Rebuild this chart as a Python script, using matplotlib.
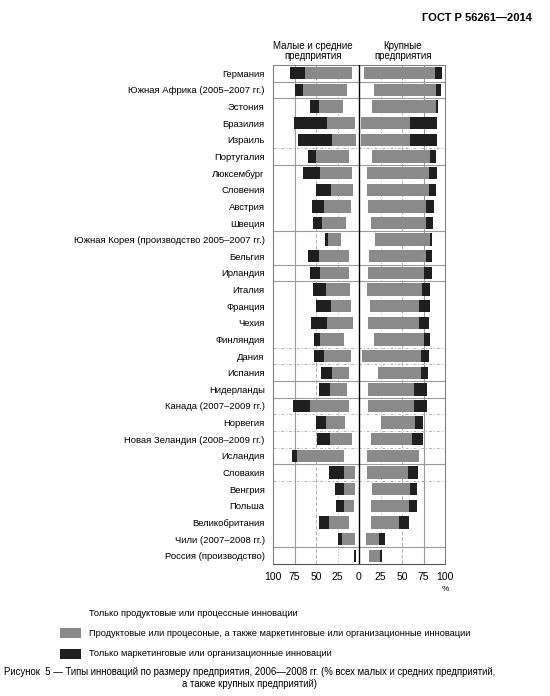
import matplotlib
matplotlib.use("Agg")
import matplotlib.pyplot as plt
from matplotlib.patches import Rectangle
import numpy as np

plt.rcParams['font.family'] = ['Liberation Sans', 'DejaVu Sans']

countries = ["Германия", "Южная Африка (2005–2007 гг.)", "Эстония", "Бразилия", "Израиль",
             "Португалия", "Люксембург", "Словения", "Австрия", "Швеция",
             "Южная Корея (производство 2005–2007 гг.)", "Бельгия", "Ирландия", "Италия",
             "Франция", "Чехия", "Финляндия", "Дания", "Испания", "Нидерланды",
             "Канада (2007–2009 гг.)", "Норвегия", "Новая Зеландия (2008–2009 гг.)",
             "Исландия", "Словакия", "Венгрия", "Польша", "Великобритания",
             "Чили (2007–2008 гг.)", "Россия (производство)"]

# Small and medium enterprises (%)
sme_only_prod = [8.5, 14, 19, 5, 3, 12, 8, 7, 9, 15, 21, 12, 12, 10, 9, 7, 18, 9, 12, 14,
                 12, 16, 8, 18, 5, 5, 6, 12, 5, 3]
sme_both = [54, 51, 27, 32, 28, 38, 37, 25, 32, 28, 15, 34, 33, 28, 24, 30, 27, 32, 19, 20,
            45, 22, 26, 54, 13, 13, 11, 23, 15, 1]
sme_mkt = [17.5, 10, 11, 39, 40, 9, 20, 18, 14, 11, 3, 13, 12, 15, 17, 19, 7, 11, 13, 12,
           20, 12, 15, 6, 17, 10, 10, 11, 5, 1.5]

# Large enterprises (%)
large_only_prod = [6, 18, 15, 2, 2, 15, 9, 9, 10, 14, 19, 12, 11, 9, 13, 10, 17, 4, 22, 11,
                   10, 26, 14, 9, 9, 15, 14, 14, 8, 12]
large_both = [82, 72, 75, 57, 57, 68, 72, 72, 68, 64, 63, 66, 64, 64, 57, 60, 59, 68, 50, 53,
              54, 39, 48, 61, 48, 44, 44, 32, 15, 12]
large_mkt = [8, 5, 2, 32, 32, 7, 10, 9, 9, 8, 3, 7, 10, 10, 12, 11, 6, 9, 8, 15,
             15, 9, 12, 0, 12, 9, 10, 12, 7, 3]

tick_vals = [-100, -75, -50, -25, 0, 25, 50, 75, 100]
tick_labels = ["100", "75", "50", "25", "0", "25", "50", "75", "100"]

legend_labels = ["Только продуктовые или процессные инновации",
                 "Продуктовые или процесоные, а также маркетинговые или организационные инновации",
                 "Только маркетинговые или организационные инновации"]

solid_seps = [0.5, 1.5, 5.5, 9.5, 11.5, 12.5, 18.5, 19.5, 23.5, 28.5]
dotted_seps = [4.5, 16.5, 17.5, 20.5, 21.5, 22.5, 24.5]

GRAY = "#8a8a8a"
BLACK = "#1f1f1f"

W, H = 550, 696
fig = plt.figure(figsize=(5.5, 6.96), dpi=100)
ax = fig.add_axes([273 / W, 1 - 564 / H, (445 - 273) / W, (564 - 65) / H])

y = np.arange(len(countries))
sme_op = np.array(sme_only_prod)
sme_b = np.array(sme_both)
sme_m = np.array(sme_mkt)
lg_op = np.array(large_only_prod)
lg_b = np.array(large_both)
lg_m = np.array(large_mkt)

h = 0.74
# left (SME) - negative direction
ax.barh(y, -sme_op, left=0, height=h, color="white", zorder=2)
ax.barh(y, -sme_b, left=-sme_op, height=h, color=GRAY, zorder=2)
ax.barh(y, -sme_m, left=-(sme_op + sme_b), height=h, color=BLACK, zorder=2)
# right (large)
ax.barh(y, lg_op, left=0, height=h, color="white", zorder=2)
ax.barh(y, lg_b, left=lg_op, height=h, color=GRAY, zorder=2)
ax.barh(y, lg_m, left=lg_op + lg_b, height=h, color=BLACK, zorder=2)

ax.set_xlim(-100, 100)
ax.set_ylim(len(countries) - 0.5, -0.5)

# gridlines
for v in (-75, 75):
    ax.axvline(v, color="#9a9a9a", lw=0.8, zorder=1)
for v in (-50, 50):
    ax.axvline(v, color="#b0b0b0", lw=0.7, ls=(0, (4, 2)), zorder=1)
for v in (-25, 25):
    ax.axvline(v, color="#b8b8b8", lw=0.7, ls=(0, (1, 2)), zorder=1)
ax.axvline(0, color="black", lw=1.0, zorder=3)

for s in solid_seps:
    ax.axhline(s, color="#9a9a9a", lw=0.8, zorder=1)
for s in dotted_seps:
    ax.axhline(s, color="#b5b5b5", lw=0.7, ls=(0, (3, 2, 1, 2)), zorder=1)

for sp in ax.spines.values():
    sp.set_color("#808080")
    sp.set_linewidth(0.8)
ax.spines["bottom"].set_color("#555555")

ax.set_xticks(tick_vals)
ax.set_xticklabels(tick_labels, fontsize=7.5)
ax.set_yticks(y)
ax.set_yticklabels(countries, fontsize=6.8)
ax.tick_params(axis="x", length=0, pad=6)
ax.tick_params(axis="y", length=0, pad=6)

ax.text(100, -0.045, "%", transform=ax.get_xaxis_transform(), fontsize=6,
        ha="center", va="top")

# column headers
fig.text(313 / W, 1 - 51 / H, "Малые и средние\nпредприятия", ha="center", va="center",
         fontsize=7, linespacing=1.0)
fig.text(403 / W, 1 - 51 / H, "Крупные\nпредприятия", ha="center", va="center",
         fontsize=7, linespacing=1.0)

# document header
fig.text(532 / W, 1 - 18 / H, "ГОСТ Р 56261—2014", ha="right", va="center",
         fontsize=8, fontweight="bold")

# legend
patch_colors = ["white", GRAY, BLACK]
legend_y = [613, 633, 654]
for lab, c, yy in zip(legend_labels, patch_colors, legend_y):
    fig.patches.append(Rectangle((60 / W, 1 - (yy + 5) / H), 21 / W, 10 / H,
                                 transform=fig.transFigure, facecolor=c, edgecolor="none"))
    fig.text(89 / W, 1 - yy / H, lab, ha="left", va="center", fontsize=6.7)

# caption
fig.text(250 / W, 1 - 672 / H,
         "Рисунок  5 — Типы инноваций по размеру предприятия, 2006—2008 гг. (% всех малых и средних предприятий,",
         ha="center", va="center", fontsize=6.9)
fig.text(250 / W, 1 - 684 / H, "а также крупных предприятий)", ha="center", va="center",
         fontsize=6.9)

fig.savefig("out.png", dpi=100)
